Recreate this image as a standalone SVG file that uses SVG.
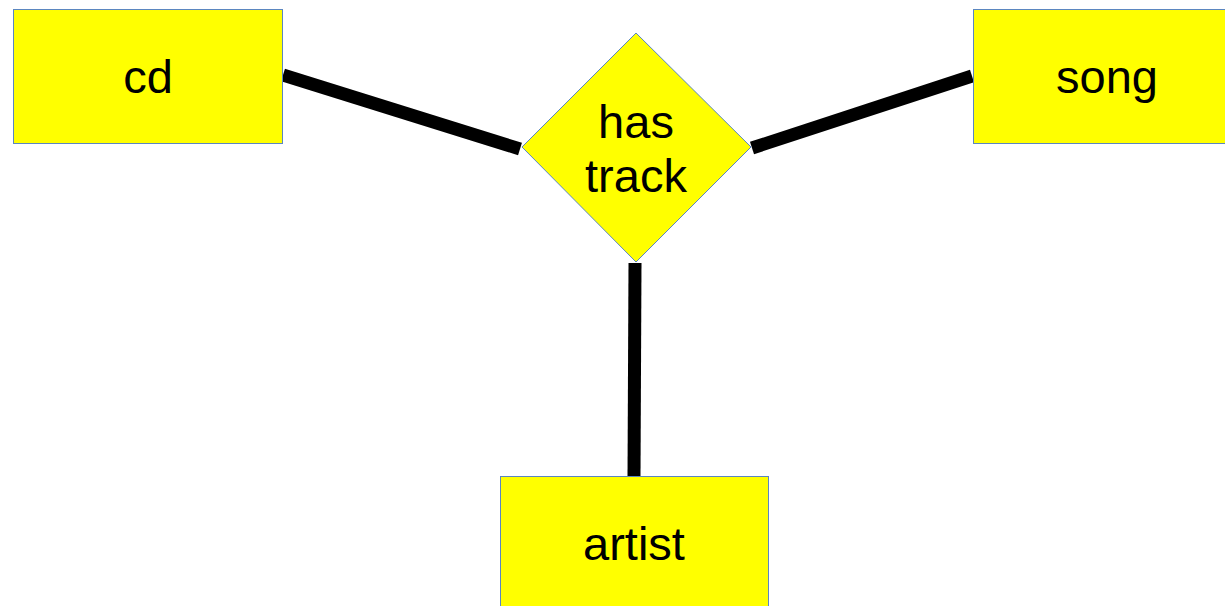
<svg xmlns="http://www.w3.org/2000/svg" width="1225" height="606" viewBox="0 0 1225 606">
<style>
.n{fill:#ffff00;stroke:#5b86c0;stroke-width:1}
.t{font-family:"Liberation Sans",Arial,sans-serif;font-size:47px;fill:#000;text-anchor:middle}
.c{stroke:#000;stroke-width:13;fill:none}
</style>
<rect width="1225" height="606" fill="#fff"/>
<g id="connectors">
<line class="c" x1="283" y1="75" x2="520" y2="149"/>
<line class="c" x1="752" y1="148" x2="972" y2="76"/>
<line class="c" x1="635" y1="263" x2="634" y2="476"/>
</g>
<g id="cd">
<rect class="n" x="13.5" y="9.5" width="269" height="134"/>
<text class="t" x="148" y="93">cd</text>
</g>
<g id="song">
<rect class="n" x="973.5" y="9.5" width="260" height="134"/>
<text class="t" x="1107" y="93">song</text>
</g>
<g id="has-track">
<polygon class="n" points="636,33 751,147 636,262 522,147"/>
<text class="t" x="636" y="138">has</text>
<text class="t" x="636" y="192">track</text>
</g>
<g id="artist">
<rect class="n" x="500.5" y="476.5" width="268" height="140"/>
<text class="t" x="634" y="560">artist</text>
</g>
</svg>
